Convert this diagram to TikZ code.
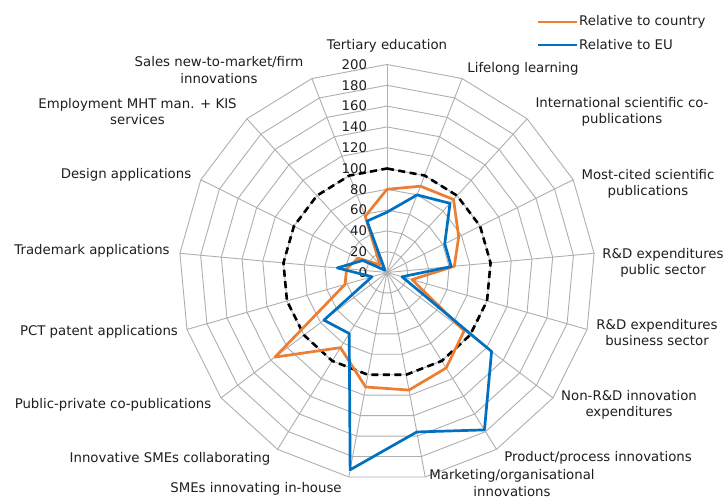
\documentclass[tikz,border=0pt]{standalone}
\usepackage{fontspec}
\setmainfont{DejaVu Sans}
\definecolor{serorange}{RGB}{237,125,49}
\definecolor{serblue}{RGB}{0,112,192}
\definecolor{gridgray}{RGB}{175,175,175}
\tikzset{
  gridline/.style={draw=gridgray, line width=0.9pt},
  refline/.style={draw=black, line width=2.6pt, dash pattern=on 7pt off 4.5pt},
  orangeline/.style={draw=serorange, line width=2.7pt, line join=round},
  blueline/.style={draw=serblue, line width=2.7pt, line join=round},
  axlabel/.style={font=\fontsize{13.3}{16.3}\selectfont, align=center, text=black!88, inner sep=0pt},
  vallabel/.style={font=\fontsize{13.3}{16}\selectfont, anchor=east, text=black!88, inner sep=0pt}
}
\begin{document}
\begin{tikzpicture}[x=1pt,y=-1pt]
\fill[white] (0,0) rectangle (725,500);
\useasboundingbox (0,0) rectangle (725,500);
\begin{scope}[shift={(387,272.5)}, x=1.04pt, y=1.04pt]
  % rings
  \foreach \r in {20,40,...,200}
    \draw[gridline] (90:\r) \foreach \k in {1,...,16} { -- ({90-\k*360/17}:\r) } -- cycle;
  % spokes
  \foreach \k in {0,...,16}
    \draw[gridline] (0,0) -- ({90-\k*360/17}:200);
  % value labels
  \foreach \r in {0,20,...,200}
    \node[vallabel] (v\r) at (-19,\r) {\r};
  % reference ring at 100
  \draw[refline] (90:100) \foreach \k in {1,...,16} { -- ({90-\k*360/17}:100) } -- cycle;
  % relative to country
  \foreach \v [count=\k from 0] in {80,89,95,77,65,25,93,108,115,112,85,135,42,39,31,10,58}
    \coordinate (o\k) at ({90-\k*360/17}:\v);
  \draw[orangeline] (o0) \foreach \k in {1,...,16} { -- (o\k) } -- cycle;
  % relative to EU
  \foreach \v [count=\k from 0] in {58,80,90,62,62,15,126,178,156,193,69,76,15,48,26,3,53}
    \coordinate (b\k) at ({90-\k*360/17}:\v);
  \draw[blueline] (b0) \foreach \k in {1,...,16} { -- (b\k) } -- cycle;
\end{scope}
% axis labels
\node[axlabel] (l0) at (387,46) {Tertiary education};
\node[axlabel] (l1) at (523,69) {Lifelong learning};
\node[axlabel] (l2) at (622,111.5) {International scientific co-\\publications};
\node[axlabel] (l3) at (648,184) {Most-cited scientific\\publications};
\node[axlabel] (l4) at (663,262.5) {R\&D expenditures\\public sector};
\node[axlabel] (l5) at (657,332.5) {R\&D expenditures\\business sector};
\node[axlabel] (l6) at (629,404.5) {Non-R\&D innovation\\expenditures};
\node[axlabel] (l7) at (598,458) {Product/process innovations};
\node[axlabel] (l8) at (512,483) {Marketing/organisational\\innovations};
\node[axlabel] (l9) at (256,489) {SMEs innovating in-house};
\node[axlabel] (l10) at (170,459) {Innovative SMEs collaborating};
\node[axlabel] (l11) at (113,405) {Public-private co-publications};
\node[axlabel] (l12) at (99,332) {PCT patent applications};
\node[axlabel] (l13) at (92,251) {Trademark applications};
\node[axlabel] (l14) at (126,175) {Design applications};
\node[axlabel] (l15) at (137.5,111.5) {Employment MHT man. + KIS\\services};
\node[axlabel] (l16) at (219,70) {Sales new-to-market/firm\\innovations};
% legend
\coordinate (lo1) at (538,22);
\coordinate (lo2) at (577,22);
\coordinate (lb1) at (538,45);
\coordinate (lb2) at (577,45);
\draw[draw=serorange, line width=2.6pt] (lo1) -- (lo2);
\draw[draw=serblue, line width=2.6pt] (lb1) -- (lb2);
\node[axlabel, anchor=west] (lgo) at (579,22) {Relative to country};
\node[axlabel, anchor=west] (lgb) at (579,45) {Relative to EU};
\end{tikzpicture}
\end{document}
